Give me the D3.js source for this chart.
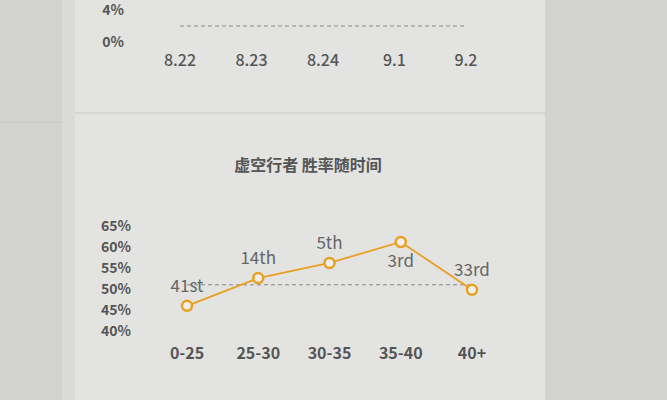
<!DOCTYPE html>
<html>
<head>
<meta charset="utf-8">
<script src="https://cdn.jsdelivr.net/npm/d3@7"></script>
<style>
    html, body { margin: 0; padding: 0; background: #d3d3d1; }
    #chart { width: 667px; height: 400px; }
    text { font-family: "Noto Sans CJK SC", "Noto Sans", sans-serif; }
</style>
</head>
<body>
<div id="chart"></div>
<script>
// top chart (only its lower part is visible)
const topDates = ['8.22', '8.23', '8.24', '9.1', '9.2'];
const topTicks = [0, 4];
const topAverage = 2;

// bottom chart: win rate by game length
const title = '虚空行者 胜率随时间';
const lengths = ['0-25', '25-30', '30-35', '35-40', '40+'];
const winRates = [46, 52.6, 56.2, 61.2, 49.8];
const ranks = ['41st', '14th', '5th', '3rd', '33rd'];
const rateTicks = [40, 45, 50, 55, 60, 65];
const rateAverage = 51;

const orange = '#e9a020';
const textColor = '#555';

const svg = d3.select('#chart')
    .append('svg')
    .attr('width', 667)
    .attr('height', 400);

// page background: dark side strips and a lighter panel
svg.append('rect').attr('x', 0).attr('y', 0).attr('width', 667).attr('height', 400).attr('fill', '#d2d2d0');
svg.append('rect').attr('x', 62).attr('y', 0).attr('width', 13).attr('height', 400).attr('fill', '#dadad8');
svg.append('rect').attr('x', 75).attr('y', 0).attr('width', 470).attr('height', 400).attr('fill', '#e3e3e1');
svg.append('line').attr('x1', 75).attr('x2', 545).attr('y1', 113).attr('y2', 113)
    .attr('stroke', '#d0d0ce').attr('stroke-width', 1.5);
svg.append('line').attr('x1', 0).attr('x2', 62).attr('y1', 122).attr('y2', 122)
    .attr('stroke', '#c6c6c4').attr('stroke-width', 1);

// ---- top chart ----
const xTop = d3.scalePoint().domain(topDates).range([180, 466]);
const yTop = d3.scaleLinear().domain([0, 4]).range([42, 10]);

svg.selectAll('.top-ytick')
    .data(topTicks)
    .enter()
    .append('text')
    .attr('x', 124)
    .attr('y', d => yTop(d))
    .attr('dy', '0.35em')
    .attr('text-anchor', 'end')
    .attr('font-size', '14px')
    .attr('font-weight', 'bold')
    .attr('fill', textColor)
    .text(d => d + '%');

svg.append('line')
    .attr('x1', xTop(topDates[0]))
    .attr('x2', xTop(topDates[topDates.length - 1]))
    .attr('y1', yTop(topAverage))
    .attr('y2', yTop(topAverage))
    .attr('stroke', '#888')
    .attr('stroke-width', 1)
    .attr('stroke-dasharray', '4,3');

svg.selectAll('.top-xlabel')
    .data(topDates)
    .enter()
    .append('text')
    .attr('x', d => xTop(d))
    .attr('y', 60)
    .attr('dy', '0.35em')
    .attr('text-anchor', 'middle')
    .attr('font-size', '16px')
    .attr('font-weight', 500)
    .attr('fill', textColor)
    .text(d => d);

// ---- bottom chart ----
const x = d3.scalePoint().domain(lengths).range([187, 472]);
const y = d3.scaleLinear().domain([40, 65]).range([331, 226]);

svg.append('text')
    .attr('x', 308)
    .attr('y', 165)
    .attr('dy', '0.35em')
    .attr('text-anchor', 'middle')
    .attr('font-size', '16px')
    .attr('font-weight', 'bold')
    .attr('fill', textColor)
    .text(title);

svg.selectAll('.ytick')
    .data(rateTicks)
    .enter()
    .append('text')
    .attr('x', 131)
    .attr('y', d => y(d))
    .attr('dy', '0.35em')
    .attr('text-anchor', 'end')
    .attr('font-size', '14px')
    .attr('font-weight', 'bold')
    .attr('fill', textColor)
    .text(d => d + '%');

svg.selectAll('.xlabel')
    .data(lengths)
    .enter()
    .append('text')
    .attr('x', d => x(d))
    .attr('y', 353)
    .attr('dy', '0.35em')
    .attr('text-anchor', 'middle')
    .attr('font-size', '16px')
    .attr('font-weight', 'bold')
    .attr('fill', textColor)
    .text(d => d);

svg.append('line')
    .attr('x1', x(lengths[0]))
    .attr('x2', x(lengths[lengths.length - 1]))
    .attr('y1', y(rateAverage))
    .attr('y2', y(rateAverage))
    .attr('stroke', '#888')
    .attr('stroke-width', 1)
    .attr('stroke-dasharray', '4,3');

const points = lengths.map((d, i) => ({ len: d, rate: winRates[i], rank: ranks[i] }));
const maxRate = d3.max(winRates);

const line = d3.line()
    .x(d => x(d.len))
    .y(d => y(d.rate));

svg.append('path')
    .datum(points)
    .attr('fill', 'none')
    .attr('stroke', orange)
    .attr('stroke-width', 1.8)
    .attr('d', line);

svg.selectAll('.dot')
    .data(points)
    .enter()
    .append('circle')
    .attr('cx', d => x(d.len))
    .attr('cy', d => y(d.rate))
    .attr('r', 5)
    .attr('fill', '#eeeeec')
    .attr('stroke', orange)
    .attr('stroke-width', 2.5);

// rank labels: above the point, below it for the highest one
svg.selectAll('.rank')
    .data(points)
    .enter()
    .append('text')
    .attr('x', d => x(d.len))
    .attr('y', d => y(d.rate) + (d.rate === maxRate ? 19 : -20))
    .attr('dy', '0.35em')
    .attr('text-anchor', 'middle')
    .attr('font-size', '17px')
    .attr('fill', '#666')
    .text(d => d.rank);
</script>
</body>
</html>
